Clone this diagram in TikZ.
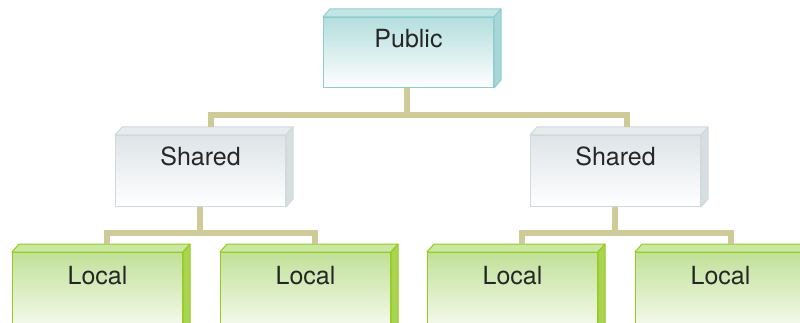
\documentclass[tikz,border=0pt]{standalone}
\usepackage{fontspec}
\setmainfont{TeX Gyre Heros}
\usetikzlibrary{calc}

\definecolor{linkkhaki}{HTML}{CFCB98}
\definecolor{pubface}{HTML}{B4DEDE}
\definecolor{pubedge}{HTML}{8ECDCD}
\definecolor{pubtop}{HTML}{C2E5E5}
\definecolor{pubside}{HTML}{A6D6D6}
\definecolor{shface}{HTML}{DEE4E8}
\definecolor{shedge}{HTML}{D0D9DD}
\definecolor{shtop}{HTML}{E6EBEE}
\definecolor{shside}{HTML}{D6DEE2}
\definecolor{locface}{HTML}{C1E198}
\definecolor{locedge}{HTML}{96CC1E}
\definecolor{loctop}{HTML}{CBE7A4}
\definecolor{locside}{HTML}{A8D452}

\begin{document}
\begin{tikzpicture}[x=1pt,y=-1pt,font=\fontsize{25}{30}\selectfont,text=black!85,
box/.style={anchor=north west,minimum width=170pt,inner sep=0pt,text height=30pt,line width=1pt},
pubbox/.style={box,draw=pubedge,top color=pubface,bottom color=white,text depth=40pt},
shbox/.style={box,draw=shedge,top color=shface,bottom color=white,text depth=41pt},
locbox/.style={box,draw=locedge,top color=locface,bottom color=white,text height=32pt,text depth=58pt},
link/.style={draw=linkkhaki,line width=6pt}]
\useasboundingbox (0,0) rectangle (800,323);
\clip (0,0) rectangle (800,323);

% three levels of boxes
\node[pubbox] (pub) at (323,17) {Public};
\node[shbox] (sh1) at (115,135) {Shared};
\node[shbox] (sh2) at (530,135) {Shared};
\node[locbox] (loc1) at (12,252) {Local};
\node[locbox] (loc2) at (220,252) {Local};
\node[locbox] (loc3) at (427,252) {Local};
\node[locbox] (loc4) at (635,252) {Local};

% top and side faces give the boxes some depth
\foreach \n/\t/\s/\e in {pub/pubtop/pubside/pubedge,sh1/shtop/shside/shedge,sh2/shtop/shside/shedge,
  loc1/loctop/locside/locedge,loc2/loctop/locside/locedge,loc3/loctop/locside/locedge,loc4/loctop/locside/locedge}{
  \filldraw[fill=\t,draw=\e,line width=1pt,line join=round] (\n.north west) -- ++(7,-8) -- ($(\n.north east)+(7,-8)$) -- (\n.north east) -- cycle;
  \filldraw[fill=\s,draw=\e,line width=1pt,line join=round] (\n.north east) -- ++(7,-8) -- ($(\n.south east)+(7,-8)$) -- (\n.south east) -- cycle;
}

% tree connectors
\coordinate (hub) at ($(pub.south)+(-2,27)$);
\coordinate (hub1) at ($(sh1.south)+(-1,26)$);
\coordinate (hub2) at ($(sh2.south)+(-1,26)$);
\draw[link] (pub.south -| hub) -- (hub);
\draw[link] ($(sh1.north)+(10,-8)$) |- (hub) -| ($(sh2.north)+(11,-8)$);
\draw[link] (sh1.south -| hub1) -- (hub1);
\draw[link] ($(loc1.north)+(9,-8)$) |- (hub1) -| ($(loc2.north)+(9,-8)$);
\draw[link] (sh2.south -| hub2) -- (hub2);
\draw[link] ($(loc3.north)+(9,-8)$) |- (hub2) -| ($(loc4.north)+(10,-8)$);
\end{tikzpicture}
\end{document}
